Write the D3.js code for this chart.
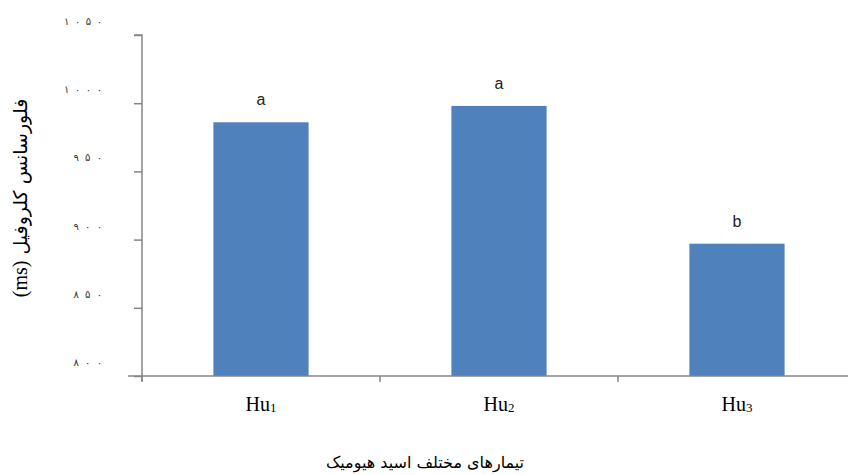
<!DOCTYPE html>
<html>
<head>
<meta charset="utf-8">
<script src="https://cdn.jsdelivr.net/npm/d3@7"></script>
<style>
  body { margin: 0; background: #fff; }
</style>
</head>
<body>
<div id="chart"></div>
<script>
const categories = ['1', '2', '3']
const values = [986, 998, 897]
const letters = ['a', 'a', 'b']
const yTicks = [800, 850, 900, 950, 1000, 1050]
const yTickLabels = ['۸۰۰', '۸۵۰', '۹۰۰', '۹۵۰', '۱۰۰۰', '۱۰۵۰']
const yTitle = 'فلورسانس کلروفیل'
const yUnit = '(ms)'
const xTitle = 'تیمارهای مختلف اسید هیومیک'

const width = 848
const height = 475
const margin = { top: 35, left: 142, bottom: 376 }

const svg = d3.select('#chart')
  .append('svg')
  .attr('width', width)
  .attr('height', height)

const x = d3.scaleBand()
  .domain(categories)
  .range([margin.left, margin.left + 238 * 3])
  .paddingInner(0.6)
  .paddingOuter(0.3)

const y = d3.scaleLinear()
  .domain([800, 1050])
  .range([margin.bottom, margin.top])

const axisColor = '#868686'

// bars
svg.append('g')
  .selectAll('rect')
  .data(values)
  .enter()
  .append('rect')
  .attr('x', (d, i) => x(categories[i]))
  .attr('y', (d) => y(d))
  .attr('width', x.bandwidth())
  .attr('height', (d) => y(800) - y(d))
  .attr('fill', '#4F81BD')

// significance letters
svg.append('g')
  .selectAll('text')
  .data(values)
  .enter()
  .append('text')
  .attr('x', (d, i) => x(categories[i]) + x.bandwidth() / 2)
  .attr('y', (d) => y(d) - 17)
  .attr('text-anchor', 'middle')
  .attr('font-family', 'Liberation Sans, Arial, sans-serif')
  .attr('font-size', 16)
  .attr('fill', '#222')
  .text((d, i) => letters[i])

// y axis
const yAxis = d3.axisLeft(y)
  .tickValues(yTicks)
  .tickSize(8)
  .tickFormat('')
const gy = svg.append('g')
  .attr('transform', `translate(${margin.left},0)`)
  .call(yAxis)
gy.select('.domain').attr('stroke', axisColor).attr('d', `M-8,${y(1050)}H0V${y(800) + 5}`)
gy.selectAll('.tick line').attr('stroke', axisColor).attr('stroke-width', 1.5)
gy.select('.domain').attr('stroke-width', 1.5)

// y tick labels (sit a bit above their tick, widely spaced digits)
svg.append('g')
  .selectAll('text')
  .data(yTicks)
  .enter()
  .append('text')
  .attr('x', 102)
  .attr('y', (d) => y(d) - 10)
  .attr('text-anchor', 'end')
  .attr('font-family', 'DejaVu Sans, sans-serif')
  .attr('font-size', 10)
  .attr('textLength', (d, i) => yTickLabels[i].length * 9.5)
  .attr('lengthAdjust', 'spacing')
  .attr('fill', '#333')
  .text((d, i) => yTickLabels[i])

// x axis
const xAxisLine = svg.append('g')
xAxisLine.append('line')
  .attr('x1', margin.left - 14)
  .attr('x2', width)
  .attr('y1', y(800))
  .attr('y2', y(800))
  .attr('stroke', axisColor)
  .attr('stroke-width', 1.5)
xAxisLine.selectAll('.cat-tick')
  .data([0, 1, 2])
  .enter()
  .append('line')
  .attr('class', 'cat-tick')
  .attr('x1', (d) => margin.left + d * 238)
  .attr('x2', (d) => margin.left + d * 238)
  .attr('y1', y(800))
  .attr('y2', y(800) + 6)
  .attr('stroke', axisColor)
  .attr('stroke-width', 1.5)

// category labels Hu with subscript
const catLabels = svg.append('g')
  .selectAll('text')
  .data(categories)
  .enter()
  .append('text')
  .attr('x', (d) => x(d) + x.bandwidth() / 2)
  .attr('y', 411)
  .attr('text-anchor', 'middle')
  .attr('font-family', 'Liberation Serif, Times New Roman, serif')
  .attr('font-size', 20)
  .attr('fill', '#000')
catLabels.append('tspan').text('Hu')
catLabels.append('tspan')
  .attr('font-size', 13)
  .attr('dy', 1)
  .text((d) => d)

// axis titles
const yt = svg.append('text')
  .attr('transform', 'translate(27,198) rotate(-90)')
  .attr('text-anchor', 'middle')
  .attr('direction', 'rtl')
  .attr('font-family', 'DejaVu Sans, sans-serif')
  .attr('font-size', 19)
  .attr('fill', '#000')
yt.append('tspan').text(yTitle + ' ')
yt.append('tspan')
  .attr('font-family', 'Liberation Serif, serif')
  .attr('font-size', 20)
  .text(yUnit)

svg.append('text')
  .attr('x', 425)
  .attr('y', 468)
  .attr('text-anchor', 'middle')
  .attr('direction', 'rtl')
  .attr('font-family', 'DejaVu Sans, sans-serif')
  .attr('font-size', 16)
  .attr('fill', '#000')
  .text(xTitle)
</script>
</body>
</html>
